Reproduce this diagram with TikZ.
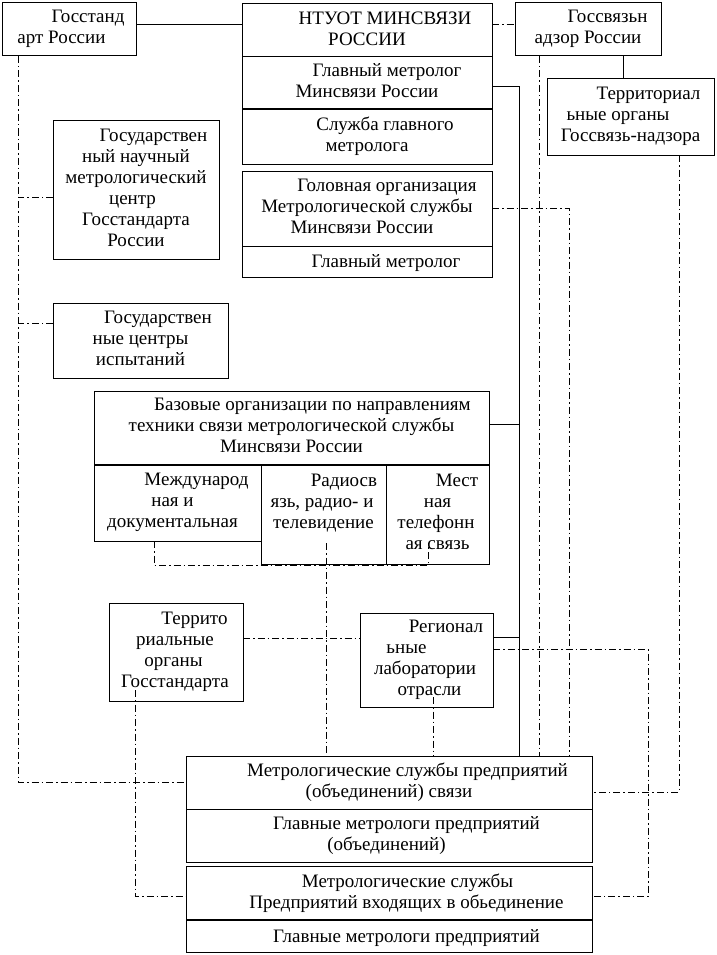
\documentclass[tikz,border=0pt]{standalone}
\usepackage{fontspec}
\setmainfont{Liberation Serif}
\usetikzlibrary{calc}
\newcommand{\topstrut}{\rule{0pt}{16.5pt}}
\newcommand{\botstrut}{\rule[-4.5pt]{0pt}{4.5pt}}
\newcommand{\sh}[1]{\hspace*{#1}}
\tikzset{
  cell/.style={draw, line width=1pt, anchor=north west, inner sep=0pt, outer sep=0pt,
    align=center, font=\fontsize{19}{21}\selectfont,
    execute at begin node=\topstrut, execute at end node=\botstrut},
  conn/.style={line width=1pt},
  dd/.style={line width=1pt, dash pattern=on 7pt off 3pt on 1.5pt off 3pt},
  thickdiv/.style={line width=2.2pt}
}
\begin{document}
\begin{tikzpicture}[x=1pt,y=-1pt]
\useasboundingbox (0,0) rectangle (716,955);
% top row
\node[cell, minimum width=134pt, minimum height=53pt] (gs) at (2,3) {\sh{38pt}Госстанд\\\sh{-15pt}арт России};
\node[cell, minimum width=250pt, minimum height=53pt] (nt1) at (242,4) {\sh{36pt}НТУОТ МИНСВЯЗИ\\РОССИИ};
\node[cell, minimum width=250pt, minimum height=52pt] (nt2) at (242,57) {\sh{40pt}Главный метролог\\Минсвязи России};
\node[cell, minimum width=250pt, minimum height=55pt] (nt3) at (242,109) {\sh{36pt}Служба главного\\метролога};
\node[cell, minimum width=146pt, minimum height=53pt] (gsn) at (515,3) {\sh{39pt}Госсвязьн\\адзор России};
\node[cell, minimum width=167pt, minimum height=76pt] (tgn) at (547,79) {\sh{36pt}Территориал\\\sh{-25pt}ьные органы\\Госсвязь-надзора};
% Golovnaya
\node[cell, minimum width=250pt, minimum height=75pt] (go1) at (242,171) {\sh{40pt}Головная организация\\Метрологической службы\\\sh{-10pt}Минсвязи России};
\node[cell, minimum width=250pt, minimum height=31pt] (go2) at (242,246) {\sh{38pt}Главный метролог};
% Gosstandart centres
\node[cell, minimum width=166pt, minimum height=138pt] (gnmc) at (53,121) {\sh{35pt}Государствен\\ный научный\\метрологический\\\sh{-7pt}центр\\Госстандарта\\России};
\node[cell, minimum width=175pt, minimum height=75pt] (gci) at (53,303) {\sh{35pt}Государствен\\ные центры\\испытаний};
% Bazovye
\node[cell, minimum width=395pt, minimum height=74pt] (bo) at (94,391) {\sh{42pt}Базовые организации по направлениям\\техники связи метрологической службы\\Минсвязи России};
\node[cell, minimum width=167pt, minimum height=76pt] (md) at (94,465) {\sh{38pt}Международ\\\sh{-10pt}ная и\\\sh{-10pt}документальная};
\node[cell, minimum width=125pt, minimum height=99pt] (rad) at (261,465) {\sh{41pt}Радиосв\\\sh{-3pt}язь, радио- и\\телевидение\\};
\node[cell, minimum width=103pt, minimum height=99pt] (mes) at (386,465) {\sh{39pt}Мест\\ная\\\sh{-3pt}телефонн\\ая связь};
% territorial
\node[cell, minimum width=134pt, minimum height=98pt] (tgs) at (109,603) {\sh{37pt}Террито\\\sh{-2pt}риальные\\\sh{-5pt}органы\\\sh{-2pt}Госстандарта};
\node[cell, minimum width=133pt, minimum height=94pt] (reg) at (360,613) {\sh{39pt}Регионал\\\sh{-40pt}ьные\\\sh{-3pt}лаборатории\\\sh{6pt}отрасли};
% bottom
\node[cell, minimum width=406pt, minimum height=53pt] (ms1) at (186,756) {\sh{37pt}Метрологические службы предприятий\\(объединений) связи};
\node[cell, minimum width=406pt, minimum height=53pt] (ms2) at (186,809) {\sh{35pt}Главные метрологи предприятий\\\sh{-5pt}(объединений)};
\node[cell, minimum width=406pt, minimum height=54pt] (ms3) at (186,866) {\sh{37pt}Метрологические службы\\\sh{35pt}Предприятий входящих в обьединение};
\node[cell, minimum width=406pt, minimum height=32pt] (ms4) at (186,920) {\sh{35pt}Главные метрологи предприятий};
% thick dividers
\draw[thickdiv] (nt3.north west) -- (nt3.north east);
\draw[thickdiv] (md.north west) -- (mes.north east);
\draw[thickdiv] (ms4.north west) -- (ms4.north east);
% solid connectors
\draw[conn] ([yshift=-22pt]gs.north east) -- ([yshift=-21pt]nt1.north west);
\draw[conn] ([xshift=35pt]gsn.south) -- ([xshift=35pt]gsn.south |- tgn.north);
\draw[conn] ([yshift=-30pt]nt2.north east) -| ([xshift=333pt]ms1.north west);
\draw[conn] ([yshift=-33pt]bo.north east) -- ++(30,0);
\draw[conn] ([yshift=-24pt]reg.north east) -- ++(26,0);
% dash-dot connectors
\draw[dd] ([yshift=-21pt]nt1.north east) -- ([yshift=-22pt]gsn.north west);
\draw[dd] ([xshift=16pt]gs.south west) |- ([yshift=-26pt]ms1.north west);
\draw[dd] ([yshift=-76pt]gnmc.north west) -- ++(-35,0);
\draw[dd] ([yshift=-20pt]gci.north west) -- ++(-35,0);
\draw[dd] ([yshift=-37pt]go1.north east) -| ([xshift=383pt]ms1.north west);
\draw[dd] ([xshift=24pt]gsn.south west) -- ([xshift=353pt]ms1.north west);
\draw[dd] ([xshift=132pt]tgn.south west) |- ([yshift=-36pt]ms1.north east);
\draw[dd] ([xshift=60pt]md.south west) |- ([xshift=42pt,yshift=-1pt]mes.south west) -- ([xshift=42pt,yshift=21pt]mes.south west);
\draw[dd] ([xshift=65pt,yshift=21pt]rad.south west) -- ([xshift=140pt]ms1.north west);
\draw[dd] ([yshift=-35pt]tgs.north east) -- ([yshift=-25pt]reg.north west);
\draw[dd] ([xshift=26pt,yshift=11pt]tgs.south west) |- ([yshift=-30pt]ms3.north west);
\draw[dd] ([yshift=-36pt]reg.north east) -- ++(155,0) |- ([yshift=-30pt]ms3.north east);
\draw[dd] ([xshift=73pt,yshift=10pt]reg.south west) -- ([xshift=247pt]ms1.north west);
\end{tikzpicture}
\end{document}
